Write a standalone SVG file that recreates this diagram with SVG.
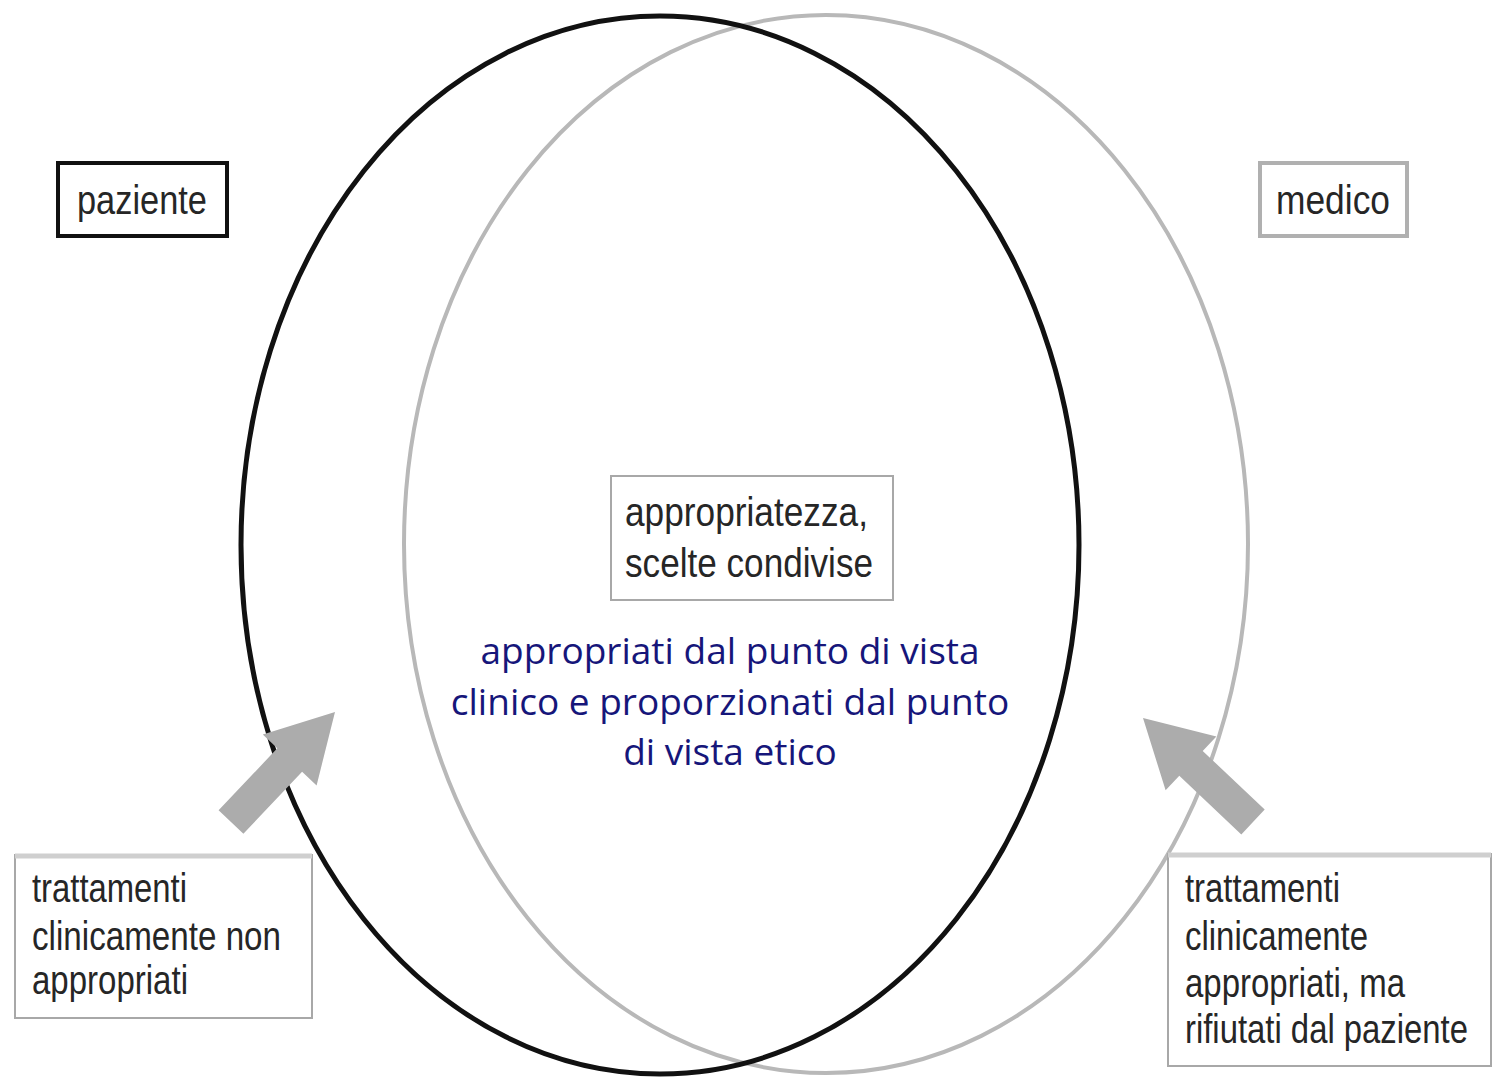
<svg xmlns="http://www.w3.org/2000/svg" width="1493" height="1079" viewBox="0 0 1493 1079">
<style>
.lbl{font-family:"Liberation Sans",Arial,sans-serif;fill:#262626;font-size:40px}
.blue{font-family:"Open Sans","Noto Sans",sans-serif;fill:#16167a;font-size:37px;text-anchor:middle}
.box{fill:#fff;stroke:#a8a8a8;stroke-width:2}
.top{stroke:#cfcfcf;stroke-width:5}
.arrow{fill:#acacac}
</style>
<rect width="1493" height="1079" fill="#fff"/>
<g id="connectors">
<ellipse id="ellipse-medico" cx="826" cy="544" rx="422" ry="529" fill="none" stroke="#b8b8b8" stroke-width="4"/>
<ellipse id="ellipse-paziente" cx="660" cy="545" rx="419" ry="529" fill="none" stroke="#111" stroke-width="5"/>
<polygon id="arrow-left" class="arrow" points="218.6,810.3 277.3,748.3 262.8,734.6 335,712 316.6,785.4 302.1,771.7 243.4,833.7"/>
<polygon id="arrow-right" class="arrow" points="1264.7,809.6 1202.7,750.9 1216.4,736.4 1143,718 1165.6,790.2 1179.3,775.7 1241.3,834.4"/>
</g>
<g id="node-paziente">
<rect x="58" y="163" width="169" height="73" fill="#fff" stroke="#111" stroke-width="4"/>
<text class="lbl" x="77" y="214" textLength="130" lengthAdjust="spacingAndGlyphs">paziente</text>
</g>
<g id="node-medico">
<rect x="1260" y="163" width="147" height="73" fill="#fff" stroke="#b0b0b0" stroke-width="4"/>
<text class="lbl" x="1276" y="214" textLength="114" lengthAdjust="spacingAndGlyphs">medico</text>
</g>
<g id="node-center">
<rect class="box" x="611" y="476" width="282" height="124"/>
<text class="lbl" x="625" y="526" textLength="243" lengthAdjust="spacingAndGlyphs">appropriatezza,</text>
<text class="lbl" x="625" y="577" textLength="248" lengthAdjust="spacingAndGlyphs">scelte condivise</text>
<text class="blue" x="730" y="664">appropriati dal punto di vista</text>
<text class="blue" x="730" y="715">clinico e proporzionati dal punto</text>
<text class="blue" x="730" y="765">di vista etico</text>
</g>
<g id="node-left">
<rect class="box" x="15" y="855" width="297" height="163"/>
<line class="top" x1="15" y1="856" x2="312" y2="856"/>
<text class="lbl" x="32" y="902" textLength="155" lengthAdjust="spacingAndGlyphs">trattamenti</text>
<text class="lbl" x="32" y="950" textLength="249" lengthAdjust="spacingAndGlyphs">clinicamente non</text>
<text class="lbl" x="32" y="994" textLength="156" lengthAdjust="spacingAndGlyphs">appropriati</text>
</g>
<g id="node-right">
<rect class="box" x="1168" y="854" width="323" height="212"/>
<line class="top" x1="1168" y1="855" x2="1491" y2="855"/>
<text class="lbl" x="1185" y="902" textLength="155" lengthAdjust="spacingAndGlyphs">trattamenti</text>
<text class="lbl" x="1185" y="950" textLength="183" lengthAdjust="spacingAndGlyphs">clinicamente</text>
<text class="lbl" x="1185" y="997" textLength="220" lengthAdjust="spacingAndGlyphs">appropriati, ma</text>
<text class="lbl" x="1185" y="1043" textLength="283" lengthAdjust="spacingAndGlyphs">rifiutati dal paziente</text>
</g>
</svg>
